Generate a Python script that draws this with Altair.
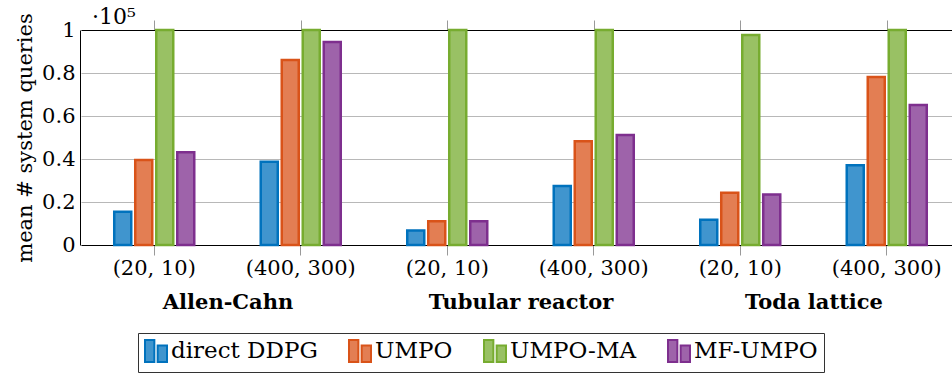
import altair as alt
import pandas as pd

# ---- data (values in units of 1e5 queries) ----
systems = ["Allen-Cahn", "Tubular reactor", "Toda lattice"]
sizes = ["(20, 10)", "(400, 300)"]
methods = ["direct DDPG", "UMPO", "UMPO-MA", "MF-UMPO"]
# order: AC(20,10), AC(400,300), TR(20,10), TR(400,300), TL(20,10), TL(400,300)
direct_ddpg = [0.155, 0.387, 0.068, 0.274, 0.118, 0.371]
umpo = [0.395, 0.860, 0.110, 0.482, 0.243, 0.781]
umpo_ma = [1.0, 1.0, 1.0, 1.0, 0.977, 1.0]
mf_umpo = [0.431, 0.944, 0.110, 0.512, 0.235, 0.651]
y_ticks = [0, 0.2, 0.4, 0.6, 0.8, 1.0]

stroke_colors = ["#0072BD", "#D95319", "#77AC30", "#7E2F8E"]
fill_colors = ["#4095CE", "#E37E53", "#99C164", "#9E63AA"]

keys = [f"{s}|{z}" for s in systems for z in sizes]
series = {"direct DDPG": direct_ddpg, "UMPO": umpo, "UMPO-MA": umpo_ma, "MF-UMPO": mf_umpo}
rows = []
for m, vals in series.items():
    for k, v in zip(keys, vals):
        rows.append({"key": k, "method": m, "value": v})
df = pd.DataFrame(rows)

FONT = "DejaVu Serif"
FS = 21
W, H = 872, 215
XRANGE = [1, 880]
OFFRANGE = [31.25, 115.25]

txt = dict(labelFont=FONT, labelFontSize=FS, labelColor="black", labelLimit=400,
           titleFont=FONT, titleFontSize=FS, titleFontWeight="normal", titleColor="black")

legend = alt.Legend(
    title=None, orient="none", legendX=58, legendY=303, direction="horizontal",
    columns=4, columnPadding=27, labelFont=FONT, labelFontSize=23, labelColor="black",
    labelOffset=3, labelLimit=300,
    symbolType="M-1,-1H-0.15V1H-1Z M0.15,-0.5H1V1H0.15Z", symbolSize=484,
    symbolStrokeWidth=2, strokeColor="#333333", fillColor="white", padding=6,
)

bars = alt.Chart(df).mark_bar(strokeWidth=2.5).encode(
    x=alt.X("key:N", sort=keys,
            scale=alt.Scale(domain=keys, range=XRANGE, paddingInner=0, paddingOuter=0),
            axis=alt.Axis(orient="bottom", title=None, labelExpr="split(datum.label, '|')[1]",
                          labelAngle=0, ticks=True, tickSize=10, tickColor="#999999",
                          tickWidth=1, domainColor="black", domainWidth=1, labelPadding=2,
                          grid=False, **txt)),
    xOffset=alt.XOffset("method:N", sort=methods,
                        scale=alt.Scale(domain=methods, range=OFFRANGE,
                                        paddingInner=0.19, paddingOuter=0.095)),
    y=alt.Y("value:Q", scale=alt.Scale(domain=[0, 1], nice=False, zero=True),
            axis=alt.Axis(values=y_ticks, format=".1~f", title="mean # system queries",
                          grid=True, gridColor="#b8b8b8", gridWidth=1, ticks=False,
                          domainColor="black", domainWidth=1, labelPadding=5, titlePadding=6,
                          **txt)),
    fill=alt.Fill("method:N", scale=alt.Scale(domain=methods, range=fill_colors), legend=legend),
    stroke=alt.Stroke("method:N", scale=alt.Scale(domain=methods, range=stroke_colors), legend=legend),
)

groups = alt.Chart(pd.DataFrame({"system": systems})).mark_point(opacity=0).encode(
    x=alt.X("system:N", sort=systems,
            scale=alt.Scale(domain=systems, range=XRANGE, paddingInner=0, paddingOuter=0),
            axis=alt.Axis(orient="bottom", title=None, ticks=False, domain=False, labelAngle=0,
                          labelFontWeight="bold", labelPadding=46, grid=False, **txt)),
)

top = alt.Chart(df).mark_point(opacity=0).encode(
    x=alt.X("key:N", sort=keys,
            scale=alt.Scale(domain=keys, range=XRANGE, paddingInner=0, paddingOuter=0),
            axis=alt.Axis(orient="top", title=None, labels=False, ticks=True, tickSize=10,
                          tickColor="#999999", tickWidth=1, domainColor="black",
                          domainWidth=1, grid=False)),
)

chart = alt.layer(bars, groups, top).resolve_scale(x="independent").resolve_axis(x="independent").properties(
    width=W, height=H,
    background="white",
    autosize=alt.AutoSizeParams(type="none"),
    padding={"left": 80, "top": 30, "right": 0, "bottom": 128},
    title=alt.TitleParams(text="·10⁵", anchor="start", frame="group", font=FONT, fontSize=22,
                          fontWeight="normal", color="black", dx=12, offset=-16),
).configure_view(stroke=None)

chart.save("out.html", embed_options={"renderer": "svg", "actions": False})
